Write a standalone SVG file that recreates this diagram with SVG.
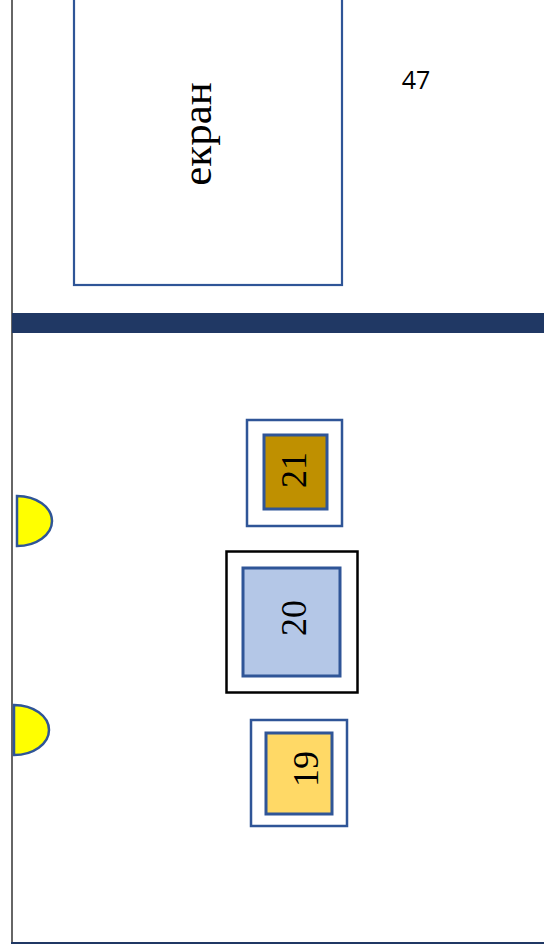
<svg xmlns="http://www.w3.org/2000/svg" width="544" height="944" viewBox="0 0 544 944">
<style>
.bl{stroke:#2F5597;stroke-width:2.5}
.in{stroke:#2F5597;stroke-width:3}
.num{font-family:"Liberation Serif","Times New Roman",serif;font-size:36px;fill:#000;text-anchor:middle}
.semi{fill:#FFFF00;stroke:#2F5597;stroke-width:2.5}
</style>
<rect width="544" height="944" fill="#fff"/>
<g id="walls">
<line x1="12" y1="0" x2="12" y2="943" stroke="#333" stroke-width="1.5"/>
<rect x="12" y="313" width="532" height="20" fill="#203864"/>
<line x1="11" y1="943" x2="544" y2="943" stroke="#203864" stroke-width="2"/>
</g>
<g id="screen">
<rect x="74" y="-10" width="268" height="295" fill="#fff" stroke="#2F5597" stroke-width="2.2"/>
<text transform="translate(211,134) rotate(-90)" style="font-family:'Liberation Serif','Times New Roman',serif;font-size:43px;text-anchor:middle">екран</text>
</g>
<g id="label47">
<text x="416" y="89" style="font-family:'Open Sans','Liberation Sans',sans-serif;font-size:25px;text-anchor:middle">47</text>
</g>
<g id="door1"><path class="semi" d="M17,496 A35,25 0 0 1 17,546 Z"/></g>
<g id="door2"><path class="semi" d="M14,705 A35,25 0 0 1 14,755 Z"/></g>
<g id="node21">
<rect x="247" y="420" width="95" height="106" fill="#fff" class="bl"/>
<rect x="264" y="435" width="63" height="74" fill="#BF9000" class="in"/>
<text class="num" transform="translate(306,470) rotate(-90)">21</text>
</g>
<g id="node20">
<rect x="226.5" y="551.5" width="131" height="141" fill="#fff" stroke="#000" stroke-width="2.5"/>
<rect x="243" y="568" width="97" height="108" fill="#B4C7E7" class="in"/>
<text class="num" transform="translate(306,618) rotate(-90)">20</text>
</g>
<g id="node19">
<rect x="251" y="720" width="96" height="106" fill="#fff" class="bl"/>
<rect x="266" y="733" width="66" height="81" fill="#FFD966" class="in"/>
<text class="num" transform="translate(318,769) rotate(-90)">19</text>
</g>
<g id="connectors"></g>
</svg>
